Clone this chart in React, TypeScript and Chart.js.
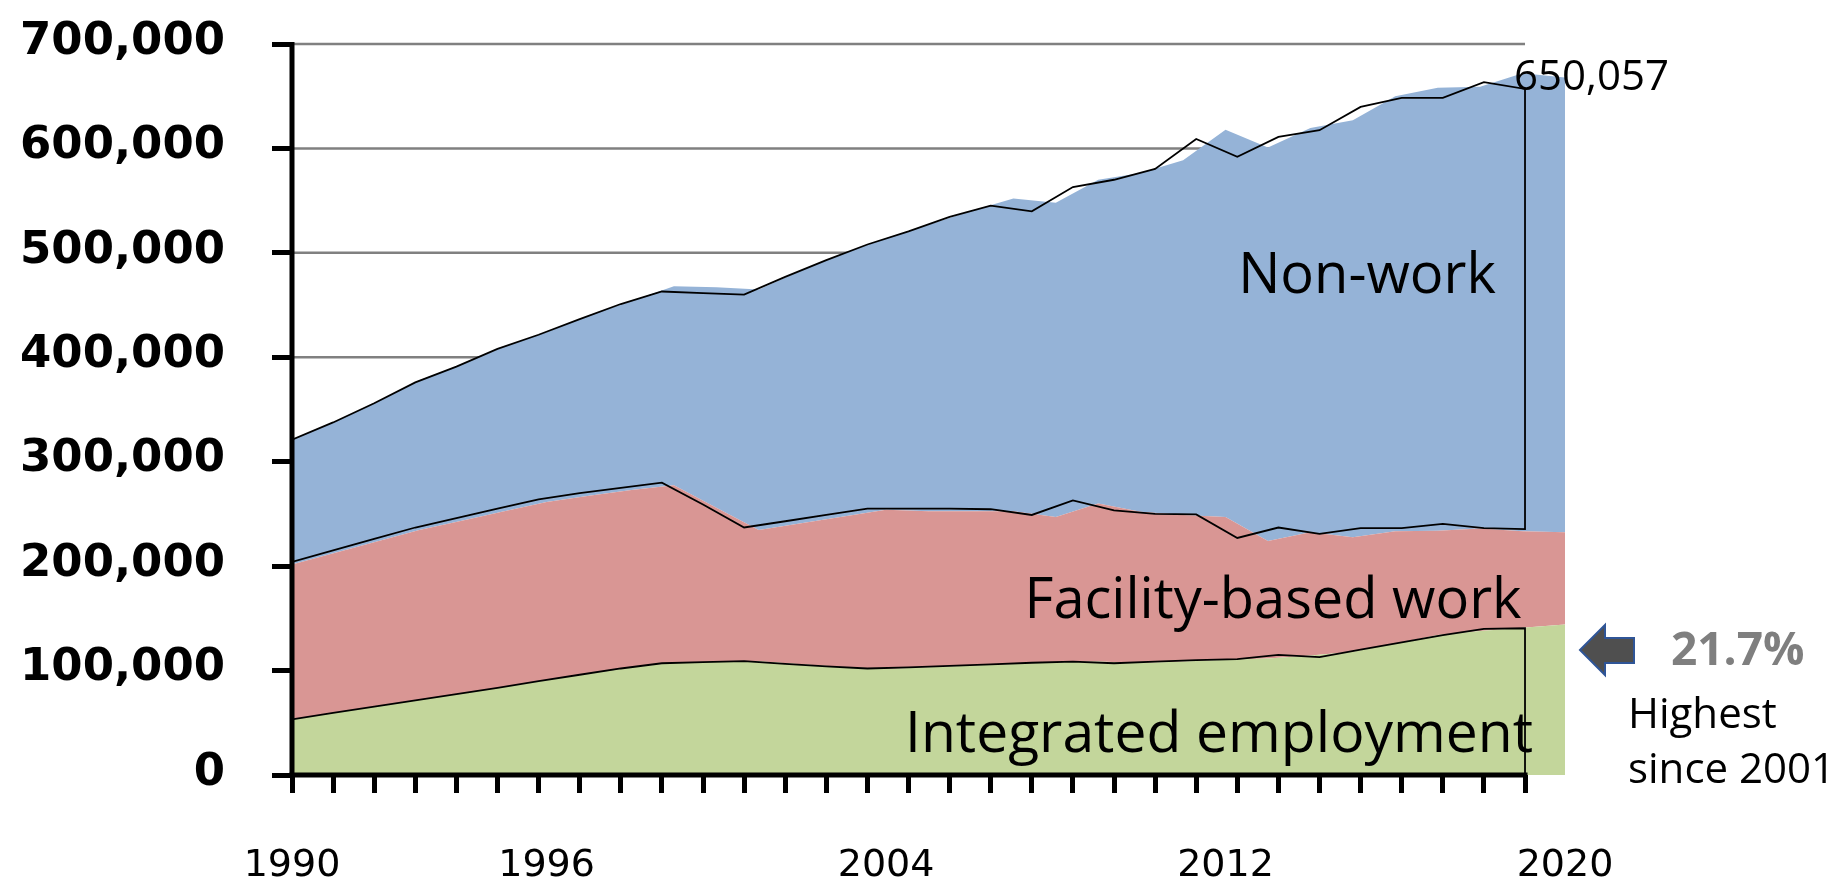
import React, { useEffect, useRef } from "react";
import { Chart, registerables } from "chart.js";

Chart.register(...registerables);

// ---------- data ----------
const years = [
  1990, 1991, 1992, 1993, 1994, 1995, 1996, 1997, 1998, 1999, 2000,
  2001, 2002, 2003, 2004, 2005, 2006, 2007, 2008, 2009, 2010,
  2011, 2012, 2013, 2014, 2015, 2016, 2017, 2018, 2019, 2020,
];
const xLabelYears = [1990, 1996, 2004, 2012, 2020];
const yTickValues = [0, 100000, 200000, 300000, 400000, 500000, 600000, 700000];

// current data (filled stacked areas)
const integratedEmployment = [
  53300, 59700, 66000, 72000, 78000, 84300, 90700, 97000, 103000, 107500, 108500,
  109000, 106000, 103500, 101500, 103300, 104800, 106300, 108000, 108600, 107200,
  108800, 110300, 111500, 114500, 118000, 126000, 134000, 138000, 141000, 144000,
];
const facilityBasedWork = [
  148300, 152800, 157500, 162500, 165500, 168200, 170800, 170500, 170000, 169900, 147500,
  125500, 135000, 144000, 152400, 149200, 147700, 146200, 139000, 151400, 144800,
  140200, 136700, 112500, 118000, 109700, 107500, 100000, 98000, 92500, 88500,
];
const nonWork = [
  119400, 125500, 133500, 143500, 149500, 157500, 162500, 172500, 181000, 190600, 211000,
  230500, 242000, 252000, 260100, 274500, 287500, 299500, 301000, 310000, 324500,
  339600, 371000, 377000, 387100, 399300, 416500, 424000, 423000, 438500, 435500,
];

// earlier edition of the same series (black outlines)
const priorIntegrated = [
  53300, 59500, 65500, 71500, 77500, 83500, 89800, 96000, 102000, 107000, 108000,
  109000, 106500, 104000, 102000, 103000, 104500, 106000, 107500, 108600, 107000,
  108500, 110000, 111000, 115000, 112800, 120000, 127000, 134000, 140000, 140500,
];
const priorFacility = [
  150700, 155500, 160500, 165500, 168500, 171500, 174200, 174000, 173000, 173000, 151000,
  128000, 136500, 145000, 153000, 152000, 150500, 148500, 141500, 154400, 146500,
  141500, 139500, 116000, 122000, 118200, 116500, 109500, 106500, 96500, 95000,
];
const priorNonWork = [
  117000, 122600, 130000, 139000, 145000, 153000, 157600, 166600, 176000, 183000, 202500,
  223000, 234000, 244000, 253000, 265600, 279400, 290700, 290800, 300000, 316500,
  330400, 359500, 365000, 374000, 386400, 403300, 411900, 407900, 426900, 421500,
];

const seriesNames = ["Integrated employment", "Facility-based work", "Non-work"];
const totalLabel = "650,057";
const shareLabel = "21.7%";
const noteLines = ["Highest", "since 2001"];

// ---------- styling ----------
const GREEN = "#C3D69B";
const RED = "#D99694";
const BLUE = "#95B3D7";
// the outline copy is drawn on a slightly narrower horizontal scale
const OVERLAY_X_MAX = 2020.973;

const cumulative = (...arrs: number[][]) =>
  arrs[0].map((_, i) => arrs.reduce((s, a) => s + a[i], 0));

const decorPlugin = {
  id: "decor",
  beforeDatasetsDraw(chart: any) {
    const { ctx, chartArea, scales } = chart;
    const y = scales.y;
    const xEnd = scales.x2.getPixelForValue(years[years.length - 1]);
    ctx.save();
    ctx.strokeStyle = "#808080";
    ctx.lineWidth = 2.5;
    for (const v of yTickValues) {
      if (v === 0) continue;
      const py = y.getPixelForValue(v);
      ctx.beginPath();
      ctx.moveTo(chartArea.left, py);
      ctx.lineTo(xEnd, py);
      ctx.stroke();
    }
    ctx.restore();
  },
  afterDatasetsDraw(chart: any) {
    const { ctx, chartArea, scales } = chart;
    const y = scales.y;
    const xEnd = scales.x2.getPixelForValue(years[years.length - 1]);
    const y0 = y.getPixelForValue(0);
    const yTop = y.getPixelForValue(yTickValues[yTickValues.length - 1]);
    ctx.save();
    ctx.strokeStyle = "#000";
    ctx.lineWidth = 5;
    ctx.beginPath();
    ctx.moveTo(chartArea.left, yTop - 2);
    ctx.lineTo(chartArea.left, y0 + 2.5);
    ctx.stroke();
    ctx.beginPath();
    ctx.moveTo(chartArea.left - 2.5, y0);
    ctx.lineTo(xEnd + 2.5, y0);
    ctx.stroke();
    ctx.restore();
  },
  afterDraw(chart: any) {
    const { ctx } = chart;
    ctx.save();
    ctx.fillStyle = "#000";
    ctx.textBaseline = "alphabetic";
    ctx.textAlign = "center";
    ctx.font = '56px "Open Sans"';
    ctx.fillText(seriesNames[2], 1367, 293);
    ctx.fillText(seriesNames[1], 1273, 618);
    ctx.font = '57px "Open Sans"';
    ctx.fillText(seriesNames[0], 1219, 752);

    ctx.textAlign = "left";
    ctx.font = '42px "Open Sans"';
    ctx.fillText(totalLabel, 1514, 90);

    // arrow
    ctx.beginPath();
    ctx.moveTo(1580, 650);
    ctx.lineTo(1605, 625);
    ctx.lineTo(1605, 638);
    ctx.lineTo(1634, 638);
    ctx.lineTo(1634, 663);
    ctx.lineTo(1605, 663);
    ctx.lineTo(1605, 675);
    ctx.closePath();
    ctx.fillStyle = "#4F4F4F";
    ctx.fill();
    ctx.strokeStyle = "#2F5597";
    ctx.lineWidth = 2;
    ctx.stroke();

    ctx.fillStyle = "#7F7F7F";
    ctx.font = 'bold 46px "Open Sans"';
    ctx.fillText(shareLabel, 1671, 665);

    ctx.fillStyle = "#000";
    ctx.font = '42px "Open Sans"';
    ctx.fillText(noteLines[0], 1628, 728);
    ctx.fillText(noteLines[1], 1628, 783);
    ctx.restore();
  },
};

export default function App() {
  const canvasRef = useRef<HTMLCanvasElement | null>(null);

  useEffect(() => {
    const canvas = canvasRef.current;
    if (!canvas) return;

    const greenTop = cumulative(integratedEmployment);
    const redTop = cumulative(integratedEmployment, facilityBasedWork);
    const blueTop = cumulative(integratedEmployment, facilityBasedWork, nonWork);

    const pBottom = cumulative(priorIntegrated);
    const pMid = cumulative(priorIntegrated, priorFacility);
    const pTop = cumulative(priorIntegrated, priorFacility, priorNonWork);

    const pts = (vals: number[]) => years.map((yr, i) => ({ x: yr, y: vals[i] }));
    const lastYear = years[years.length - 1];

    const nonWorkOutline = [...pts(pTop), ...pts(pMid).reverse()];
    const integratedOutline = [...pts(pBottom), { x: lastYear, y: 0 }];

    const chart = new Chart(canvas, {
      type: "line",
      data: {
        datasets: [
          {
            label: seriesNames[0],
            data: pts(greenTop),
            xAxisID: "x",
            backgroundColor: GREEN,
            borderWidth: 0,
            pointRadius: 0,
            fill: "origin",
            order: 2,
          },
          {
            label: seriesNames[1],
            data: pts(redTop),
            xAxisID: "x",
            backgroundColor: RED,
            borderWidth: 0,
            pointRadius: 0,
            fill: "-1",
            order: 2,
          },
          {
            label: seriesNames[2],
            data: pts(blueTop),
            xAxisID: "x",
            backgroundColor: BLUE,
            borderWidth: 0,
            pointRadius: 0,
            fill: "-1",
            order: 2,
          },
          {
            label: "prior non-work",
            data: nonWorkOutline,
            xAxisID: "x2",
            borderColor: "#000",
            borderWidth: 1.8,
            pointRadius: 0,
            fill: false,
            order: 1,
          },
          {
            label: "prior integrated",
            data: integratedOutline,
            xAxisID: "x2",
            borderColor: "#000",
            borderWidth: 1.8,
            pointRadius: 0,
            fill: false,
            order: 1,
          },
        ],
      } as any,
      options: {
        animation: false,
        responsive: false,
        devicePixelRatio: 1,
        events: [],
        layout: { padding: { top: 44, right: 271, bottom: 0, left: 0 } },
        plugins: {
          legend: { display: false },
          tooltip: { enabled: false },
          filler: { propagate: false },
        },
        scales: {
          x2: {
            type: "linear",
            position: "bottom",
            weight: 1,
            min: years[0],
            max: OVERLAY_X_MAX,
            afterBuildTicks: (s: any) => {
              s.ticks = years.map((v) => ({ value: v }));
            },
            ticks: { display: false },
            grid: {
              display: true,
              drawOnChartArea: false,
              drawTicks: true,
              tickLength: 18,
              tickWidth: 5,
              tickColor: "#000",
            },
            border: { display: false },
            afterFit: (s: any) => {
              s.height = 0;
              s.paddingLeft = 0;
              s.paddingRight = 0;
            },
          },
          x: {
            type: "linear",
            position: "bottom",
            weight: 2,
            min: years[0],
            max: years[years.length - 1],
            afterBuildTicks: (s: any) => {
              s.ticks = xLabelYears.map((v) => ({ value: v }));
            },
            ticks: {
              autoSkip: false,
              maxRotation: 0,
              padding: 68,
              color: "#000",
              font: { family: "DejaVu Sans", size: 38 },
              callback: (v: any) => String(v),
            },
            grid: { display: false, drawTicks: false },
            border: { display: false },
            afterFit: (s: any) => {
              s.height = 104;
              s.paddingLeft = 0;
              s.paddingRight = 0;
            },
          },
          y: {
            type: "linear",
            position: "left",
            min: 0,
            max: 700000,
            afterBuildTicks: (s: any) => {
              s.ticks = yTickValues.map((v) => ({ value: v }));
            },
            ticks: {
              padding: 47,
              labelOffset: -2,
              color: "#000",
              font: { family: "DejaVu Sans", size: 45, weight: "bold" },
              callback: (v: any) => Number(v).toLocaleString("en-US"),
            },
            grid: {
              display: true,
              drawOnChartArea: false,
              drawTicks: true,
              tickLength: 20,
              tickWidth: 5,
              tickColor: "#000",
            },
            border: { display: false },
            afterFit: (s: any) => {
              s.width = 292;
              s.paddingTop = 0;
              s.paddingBottom = 0;
            },
          },
        },
      } as any,
      plugins: [decorPlugin],
    });

    return () => chart.destroy();
  }, []);

  return (
    <div style={{ position: "fixed", left: 0, top: 0, width: 1836, height: 879, background: "#fff" }}>
      <canvas ref={canvasRef} width={1836} height={879} style={{ display: "block" }} />
    </div>
  );
}
